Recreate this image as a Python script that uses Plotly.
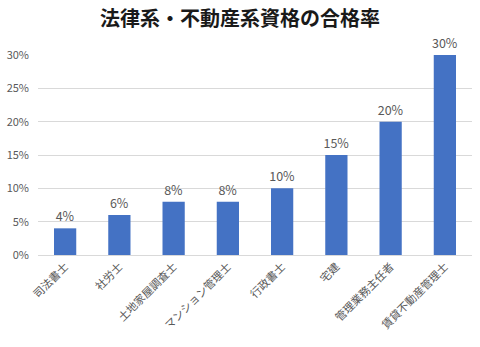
import plotly.graph_objects as go

# 資格ごとの合格率
categories = ["司法書士", "社労士", "土地家屋調査士", "マンション管理士",
              "行政書士", "宅建", "管理業務主任者", "賃貸不動産管理士"]
pass_rates = [0.04, 0.06, 0.08, 0.08, 0.10, 0.15, 0.20, 0.30]
y_ticks = [0, 0.05, 0.10, 0.15, 0.20, 0.25, 0.30]
y_tick_labels = ["0%", "5%", "10%", "15%", "20%", "25%", "30%"]

FONT = "Noto Sans CJK JP, Open Sans, sans-serif"

fig = go.Figure(
    go.Bar(
        x=categories,
        y=pass_rates,
        marker=dict(color="#4472C4", line=dict(width=0)),
        text=[f"{v:.0%}" for v in pass_rates],
        textposition="outside",
        constraintext="none",
        textfont=dict(size=12.5, color="#595959", family=FONT),
        cliponaxis=False,
    )
)

fig.update_layout(
    width=480,
    height=347,
    margin=dict(l=38, r=8, t=55, b=92),
    paper_bgcolor="white",
    plot_bgcolor="white",
    bargap=0.59,
    showlegend=False,
    title=dict(
        text="<b>法律系・不動産系資格の合格率</b>",
        x=0.5,
        xanchor="center",
        y=0.945,
        yanchor="middle",
        font=dict(size=20, color="#1a1a1a", family=FONT),
    ),
    font=dict(family=FONT, color="#595959"),
)

fig.update_xaxes(
    tickangle=-45,
    tickfont=dict(size=11, color="#595959"),
    showline=True,
    linecolor="#d9d9d9",
    linewidth=1,
    ticks="",
)
fig.update_yaxes(
    range=[0, 0.30],
    tickvals=y_ticks,
    ticktext=y_tick_labels,
    tickfont=dict(size=11, color="#595959"),
    showgrid=True,
    gridcolor="#d9d9d9",
    gridwidth=1,
    zeroline=False,
    ticks="",
    ticklabelstandoff=8,
)

fig.write_html("out.html")
